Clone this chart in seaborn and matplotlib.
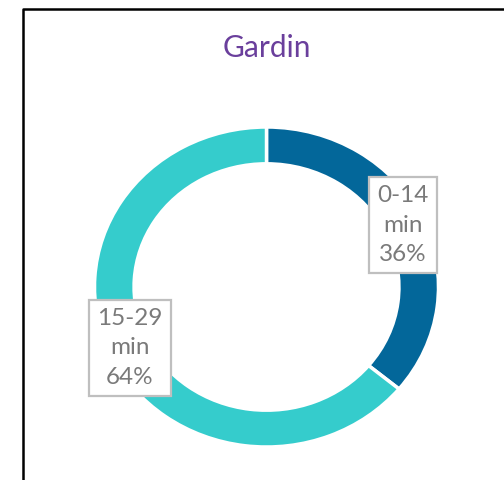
import matplotlib
matplotlib.use("Agg")
import matplotlib.pyplot as plt
from matplotlib.lines import Line2D
import seaborn as sns
import pandas as pd

title = "Gardin"
categories = ["0-14", "15-29"]
values = [36, 64]
colors = ["#03679a", "#35cccc"]

df = pd.DataFrame({"category": categories, "value": values})

sns.set_theme(style="white")
plt.rcParams["font.family"] = ["Lato", "DejaVu Sans"]

W, H = 504, 480
fig = plt.figure(figsize=(W / 100, H / 100), dpi=100)
ax = fig.add_axes([0, 0, 1, 1])

cx, cy, rx, ry = 266.5, 287.0, 172.0, 160.0

wedges, _ = ax.pie(df["value"], colors=colors, startangle=90, counterclock=False,
                   radius=1.0, wedgeprops=dict(width=0.23, edgecolor="white", linewidth=2.5))
ax.set_aspect("auto")
ax.set_xlim(-cx / rx, (W - cx) / rx)
ax.set_ylim(-(H - cy) / ry, cy / ry)
ax.axis("off")

ax.text(0, (cy - 48) / ry, title, ha="center", va="center", fontsize=21.5, color="#6a3f9c")

label_pos = [((403 - cx) / rx, (cy - 225) / ry), ((130 - cx) / rx, (cy - 348) / ry)]
for (x, y), cat, v in zip(label_pos, df["category"], df["value"]):
    ax.text(x, y, f"{cat}\nmin\n{v}%", ha="center", va="center", fontsize=17.5,
            color="#7a7a7a", linespacing=1.5,
            bbox=dict(boxstyle="square,pad=0.33", facecolor="white", edgecolor="#bfbfbf", linewidth=1.6))

fig.add_artist(Line2D([23 / W, 23 / W, 1], [0, 1 - 9 / H, 1 - 9 / H],
                      transform=fig.transFigure, color="black", linewidth=1.8))

fig.savefig("out.png", dpi=100)
